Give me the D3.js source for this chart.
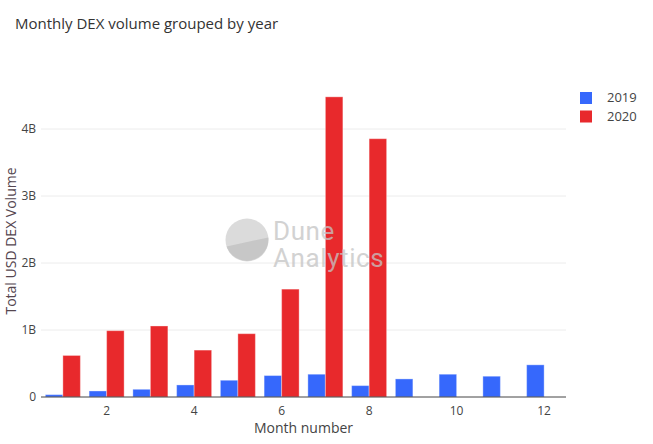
<!DOCTYPE html>
<html>
<head>
<meta charset="utf-8">
<script src="https://cdn.jsdelivr.net/npm/d3@7"></script>
<style>
  body { margin: 0; background: #fff; }
  svg { display: block; font-family: "Open Sans", sans-serif; }
</style>
</head>
<body>
<svg id="chart" width="653" height="444"></svg>
<script>
const months = [1,2,3,4,5,6,7,8,9,10,11,12];
const series = ["2019", "2020"];
const values2019 = [0.035, 0.09, 0.115, 0.18, 0.25, 0.32, 0.34, 0.17, 0.27, 0.34, 0.31, 0.48];
const values2020 = [0.62, 0.99, 1.06, 0.70, 0.945, 1.61, 4.48, 3.855, null, null, null, null];
const yTicks = [0, 1, 2, 3, 4];
const xTicks = [2, 4, 6, 8, 10, 12];
const colors = {"2019": "#3668fc", "2020": "#e8292c"};

const svg = d3.select("#chart");
const plotLeft = 41, plotRight = 566, zeroPx = 397, pxPerB = 67, plotTop = 81;

const x = d3.scaleLinear().domain([0.5, 12.5]).range([plotLeft, plotRight]);
const y = d3.scaleLinear().domain([0, (zeroPx - plotTop) / pxPerB]).range([zeroPx, plotTop]);

// title
svg.append("text").attr("x", 15).attr("y", 29)
  .attr("font-size", 15).attr("fill", "#333")
  .text("Monthly DEX volume grouped by year");

// grid
svg.append("g").selectAll("line").data(yTicks.filter(d => d > 0)).join("line")
  .attr("x1", plotLeft).attr("x2", plotRight)
  .attr("y1", d => y(d)).attr("y2", d => y(d))
  .attr("stroke", "#ececec").attr("stroke-width", 1);

// y tick labels
svg.append("g").selectAll("text").data(yTicks).join("text")
  .attr("x", 36).attr("y", d => y(d) + 4)
  .attr("text-anchor", "end").attr("font-size", 12).attr("fill", "#444")
  .text(d => d === 0 ? "0" : d + "B");

// bars
const step = x(2) - x(1);
const groupW = step * 0.8;
const barW = groupW / 2;
const data = [];
months.forEach((m, i) => {
  data.push({m, s: "2019", v: values2019[i], k: 0});
  if (values2020[i] != null) data.push({m, s: "2020", v: values2020[i], k: 1});
});
svg.append("g").selectAll("rect").data(data).join("rect")
  .attr("x", d => x(d.m) - groupW / 2 + d.k * barW)
  .attr("width", barW)
  .attr("y", d => y(d.v))
  .attr("height", d => y(0) - y(d.v))
  .attr("fill", d => colors[d.s])
  .attr("stroke", "rgba(255,255,255,0.35)")
  .attr("stroke-width", 1);

// zero line
svg.append("line").attr("x1", plotLeft).attr("x2", plotRight)
  .attr("y1", y(0)).attr("y2", y(0))
  .attr("stroke", "#444").attr("stroke-width", 1);

// x tick labels
svg.append("g").selectAll("text").data(xTicks).join("text")
  .attr("x", d => x(d)).attr("y", 415)
  .attr("text-anchor", "middle").attr("font-size", 12).attr("fill", "#444")
  .text(d => d);

// axis titles
svg.append("text").attr("x", (plotLeft + plotRight) / 2).attr("y", 433)
  .attr("text-anchor", "middle").attr("font-size", 14).attr("fill", "#444")
  .text("Month number");
svg.append("text")
  .attr("transform", `translate(16,${241}) rotate(-90)`)
  .attr("text-anchor", "middle").attr("font-size", 14).attr("fill", "#55464f")
  .text("Total USD DEX Volume");

// legend
const lg = svg.append("g");
series.forEach((s, i) => {
  lg.append("rect").attr("x", 580).attr("y", 92 + i * 18.5)
    .attr("width", 12).attr("height", 12).attr("fill", colors[s]);
  lg.append("text").attr("x", 607).attr("y", 102 + i * 18.5)
    .attr("font-size", 13).attr("fill", "#444").text(s);
});

// watermark
const wm = svg.append("g").attr("opacity", 0.75);
const cx = 247, cy = 240, r = 21.5;
wm.append("circle").attr("cx", cx).attr("cy", cy).attr("r", r).attr("fill", "#d0d0d0");
wm.append("path")
  .attr("d", `M ${cx - r * 0.95} ${cy + r * 0.3} L ${cx + r * 0.99} ${cy - r * 0.12} A ${r} ${r} 0 0 1 ${cx - r * 0.95} ${cy + r * 0.3} Z`)
  .attr("fill", "#b5b5b5");
wm.append("text").attr("x", 273).attr("y", 240).attr("font-size", 26)
  .attr("font-family", "Roboto, sans-serif").attr("letter-spacing", 0.6)
  .attr("fill", "#c4c4c4").text("Dune");
wm.append("text").attr("x", 273).attr("y", 267).attr("font-size", 26)
  .attr("font-family", "Roboto, sans-serif").attr("letter-spacing", 0.6)
  .attr("fill", "#c4c4c4").text("Analytics");
</script>
</body>
</html>
